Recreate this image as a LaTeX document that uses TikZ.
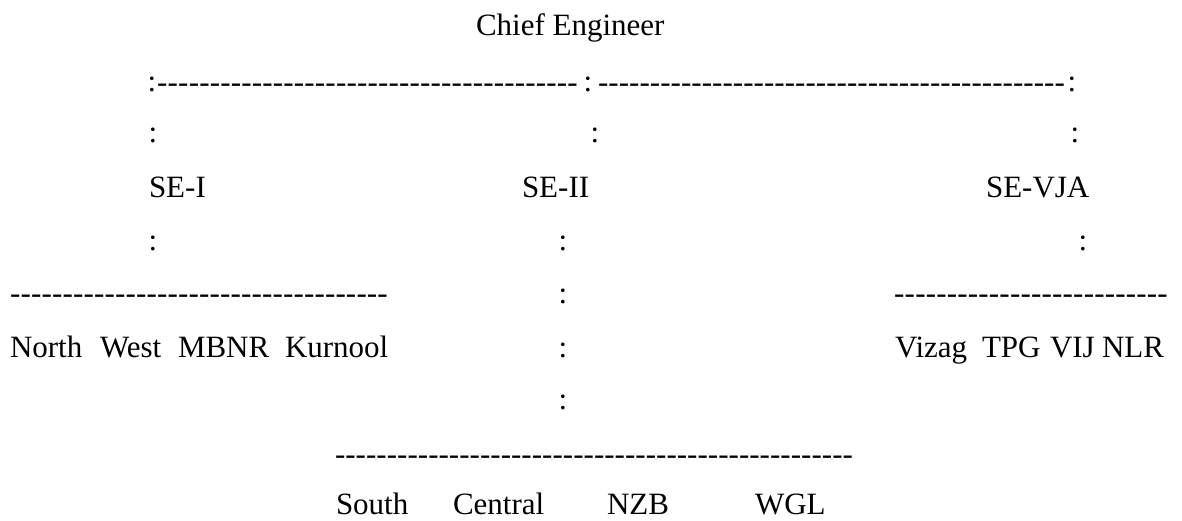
\documentclass[tikz,border=0pt]{standalone}
\usepackage{fontspec}
\setmainfont{Liberation Serif}
\usepackage{tikz}
\newcommand{\dashrun}[1]{\hbox to #1{\xleaders\hbox{-}\hfill}}
\tikzset{
  lbl/.style={anchor=base west, inner sep=0pt, outer sep=0pt},
  dot/.style={anchor=base, inner sep=0pt, outer sep=0pt}
}

\begin{document}
\begin{tikzpicture}[x=1pt, y=1pt, font=\fontsize{31}{37}\selectfont]
  \useasboundingbox (0,0) rectangle (1182,-520);
  \node[lbl] (chief) at (476,-35) {Chief Engineer};
  \foreach \x/\y [count=\c] in {152/91, 588/91, 1072/91, 153/142, 595/142, 1075/142,
      153/250, 563/250, 1083/250, 563/303, 563/357, 563/409}{
    \node[dot] (c\c) at (\x,-\y) {:};
  }
  \foreach \x/\y/\w [count=\c] in {157/92/421, 598/92/467, 10/303/378, 894/303/274, 335/464/518}{
    \node[lbl] (d\c) at (\x,-\y) {\dashrun{\w pt}};
  }
  \foreach \t/\x in {SE-I/149, SE-II/522, SE-VJA/986}{
    \node[lbl] (\t) at (\x,-197) {\t};
  }
  \foreach \t/\x in {North/10, West/100, MBNR/178, Kurnool/285, Vizag/895, TPG/982, VIJ/1050, NLR/1102}{
    \node[lbl] (\t) at (\x,-357) {\t};
  }
  \foreach \t/\x in {South/336, Central/453, NZB/607, WGL/755}{
    \node[lbl] (\t) at (\x,-514) {\t};
  }
\end{tikzpicture}
\end{document}
